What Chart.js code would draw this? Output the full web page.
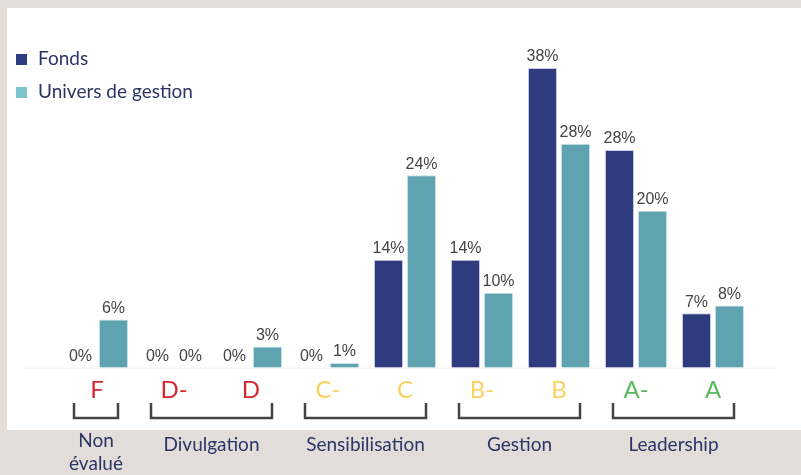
<!DOCTYPE html>
<html>
<head>
<meta charset="utf-8">
<script src="https://cdn.jsdelivr.net/npm/chart.js@4.4.1/dist/chart.umd.min.js"></script>
<style>
  html, body { margin: 0; padding: 0; background: #e2ddd9; }
  #panel { position: absolute; left: 7px; top: 8px; width: 794px; height: 422px; background: #fff; }
  #wrap { position: absolute; left: 0; top: 0; width: 801px; height: 475px; }
</style>
</head>
<body>
<div id="panel"></div>
<div id="wrap"><canvas id="ratingChart" width="801" height="475"></canvas></div>
<script>
// notes ESG : fonds vs univers de gestion (en %)
const grades = ["F", "D-", "D", "C-", "C", "B-", "B", "A-", "A"];
const gradeColors = ["#d7282f", "#d7282f", "#d7282f", "#fdd15f", "#fdd15f", "#fdd15f", "#fdd15f", "#5cb85c", "#5cb85c"];
const fondsValues = [0, 0, 0, 0, 13.7, 13.7, 38, 27.6, 6.9];
const universValues = [6.1, 0, 2.7, 0.6, 24.4, 9.5, 28.4, 19.9, 7.9];
const seriesNames = ["Fonds", "Univers de gestion"];
const barColors = ["#2e3b7e", "#5fa3b0"];
const legendColors = ["#2e3b7e", "#7cc4cc"];
const groupNames = [["Non", "évalué"], ["Divulgation"], ["Sensibilisation"], ["Gestion"], ["Leadership"]];
const groupFirst = [0, 1, 3, 5, 7];
const groupLast = [0, 2, 4, 6, 8];

const textNavy = "#2b3566";

const extras = {
    id: "extras",
    afterDatasetsDraw(chart) {
        const ctx = chart.ctx;
        const x = chart.scales.x;
        const y = chart.scales.y;
        const area = chart.chartArea;
        const base = y.getPixelForValue(0);

        // ligne de base
        ctx.save();
        ctx.strokeStyle = "#f0f0f0";
        ctx.lineWidth = 1;
        ctx.beginPath();
        ctx.moveTo(area.left - 35, base + 0.5);
        ctx.lineTo(area.right + 25, base + 0.5);
        ctx.stroke();

        // étiquettes de valeurs
        ctx.font = "16px 'Liberation Sans', Arial, sans-serif";
        ctx.fillStyle = "#444";
        ctx.textAlign = "center";
        ctx.textBaseline = "bottom";
        chart.data.datasets.forEach(function (ds, di) {
            chart.getDatasetMeta(di).data.forEach(function (bar, i) {
                ctx.fillText(Math.round(ds.data[i]) + "%", bar.x, bar.y - 3);
            });
        });

        // accolades et groupes
        ctx.strokeStyle = "#444";
        ctx.lineWidth = 2.5;
        ctx.font = "19px Lato, sans-serif";
        ctx.fillStyle = textNavy;
        ctx.textBaseline = "middle";
        for (let g = 0; g < groupNames.length; g++) {
            const x0 = x.getPixelForValue(groupFirst[g]) - 23;
            const x1 = x.getPixelForValue(groupLast[g]) + 21;
            ctx.beginPath();
            ctx.moveTo(x0, 403);
            ctx.lineTo(x0, 418);
            ctx.lineTo(x1, 418);
            ctx.lineTo(x1, 403);
            ctx.stroke();
            const lines = groupNames[g];
            const cx = (x0 + x1) / 2;
            if (lines.length === 1) {
                ctx.fillText(lines[0], cx, 445);
            } else {
                ctx.fillText(lines[0], cx, 441);
                ctx.fillText(lines[1], cx, 464);
            }
        }

        // légende
        ctx.textAlign = "left";
        for (let s = 0; s < seriesNames.length; s++) {
            const ly = 59 + s * 33;
            ctx.fillStyle = legendColors[s];
            ctx.fillRect(16, ly - 5, 11, 11);
            ctx.fillStyle = textNavy;
            ctx.fillText(seriesNames[s], 38, ly);
        }
        ctx.restore();
    }
};

new Chart("ratingChart", {
    type: "bar",
    data: {
        labels: grades,
        datasets: [{
            label: seriesNames[0],
            data: fondsValues,
            backgroundColor: barColors[0],
            borderColor: "#c9cde3",
            borderWidth: 1
        }, {
            label: seriesNames[1],
            data: universValues,
            backgroundColor: barColors[1],
            borderColor: "#c7e2e7",
            borderWidth: 1
        }]
    },
    options: {
        responsive: false,
        animation: false,
        devicePixelRatio: 1,
        categoryPercentage: 0.857,
        barPercentage: 0.88,
        layout: {
            padding: { left: 58.5, right: 49.5, top: 68, bottom: 70.5 }
        },
        plugins: {
            legend: { display: false },
            tooltip: { enabled: false }
        },
        scales: {
            x: {
                grid: { display: false },
                border: { display: false },
                ticks: {
                    color: gradeColors,
                    font: { family: "Lato, sans-serif", size: 24 },
                    padding: 0,
                    maxRotation: 0,
                    autoSkip: false
                }
            },
            y: {
                display: false,
                min: 0,
                max: 38
            }
        }
    },
    plugins: [extras]
});
</script>
</body>
</html>
